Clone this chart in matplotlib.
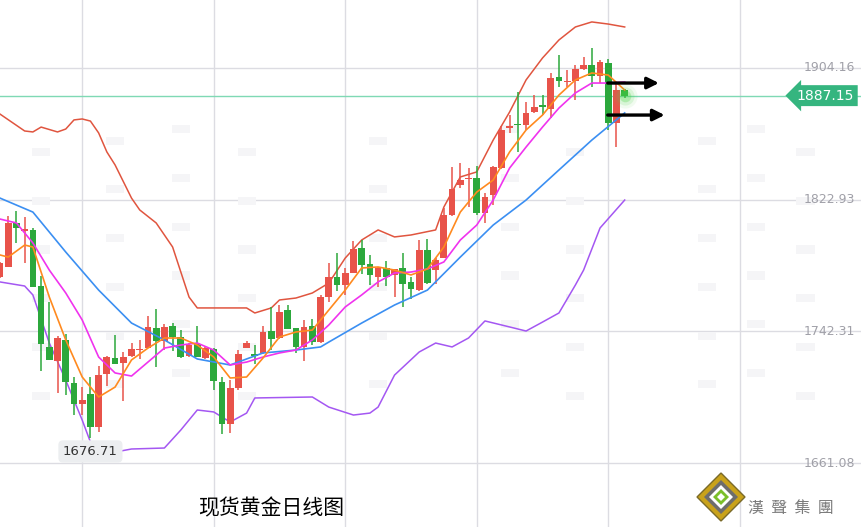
import numpy as np
import matplotlib.pyplot as plt
import matplotlib.transforms as mtransforms
from matplotlib.patches import Polygon

plt.rcParams['font.family'] = ['Noto Sans CJK SC', 'DejaVu Sans']

# daily candles (open, high, low, close)
opens = [1775.3, 1781.9, 1808.9, 1804.0, 1804.4, 1770.0, 1732.7, 1724.1, 1736.8, 1710.5,
         1697.2, 1703.5, 1683.0, 1715.6, 1725.9, 1722.4, 1727.1, 1730.6, 1731.6, 1744.3,
         1736.1, 1745.4, 1738.8, 1726.9, 1734.1, 1725.9, 1731.2, 1711.1, 1684.9, 1707.4,
         1732.0, 1728.1, 1728.5, 1742.3, 1737.8, 1755.2, 1743.9, 1732.6, 1745.4, 1735.8,
         1763.4, 1775.4, 1770.6, 1777.8, 1793.2, 1783.4, 1775.8, 1780.9, 1776.8, 1780.9,
         1772.3, 1767.6, 1792.2, 1779.9, 1787.1, 1813.7, 1832.2, 1835.7, 1836.7, 1814.7,
         1826.0, 1842.4, 1867.0, 1869.7, 1869.1, 1877.3, 1881.2, 1878.9, 1898.4, 1895.8,
         1896.4, 1903.3, 1906.0, 1899.5, 1907.5, 1870.5, 1890.6]
closes = [1783.9, 1808.5, 1805.5, 1804.8, 1769.6, 1734.1, 1724.5, 1738.2, 1710.7, 1697.2,
          1699.9, 1683.0, 1715.2, 1726.5, 1722.2, 1726.5, 1731.2, 1731.4, 1745.0, 1736.3,
          1745.0, 1738.8, 1726.5, 1733.7, 1726.5, 1732.0, 1711.7, 1684.9, 1707.0, 1728.1,
          1735.1, 1727.1, 1741.9, 1737.2, 1754.2, 1743.3, 1732.6, 1745.0, 1735.8, 1763.4,
          1775.4, 1770.6, 1777.8, 1792.6, 1783.0, 1776.8, 1780.9, 1775.8, 1780.3, 1771.3,
          1768.0, 1792.2, 1771.7, 1786.0, 1813.7, 1829.7, 1835.3, 1836.7, 1814.7, 1825.0,
          1843.5, 1866.0, 1868.5, 1869.1, 1876.3, 1880.4, 1880.4, 1898.2, 1896.4, 1896.4,
          1903.6, 1906.0, 1899.5, 1908.1, 1870.1, 1890.6, 1887.15]
highs = [1784.9, 1813.0, 1816.3, 1812.6, 1805.5, 1776.1, 1760.3, 1739.2, 1740.4, 1714.2,
         1708.0, 1714.2, 1720.8, 1727.1, 1739.8, 1729.6, 1734.7, 1736.8, 1751.5, 1755.6,
         1746.6, 1747.4, 1742.9, 1734.7, 1745.6, 1732.6, 1731.6, 1714.2, 1712.1, 1730.6,
         1736.1, 1733.7, 1745.6, 1757.3, 1758.3, 1758.3, 1743.9, 1749.1, 1749.5, 1764.5,
         1784.4, 1790.5, 1780.9, 1797.7, 1798.3, 1789.1, 1781.9, 1785.6, 1780.3, 1790.1,
         1775.8, 1798.3, 1798.7, 1787.1, 1817.8, 1843.0, 1845.5, 1842.4, 1843.9, 1827.1,
         1843.9, 1868.5, 1875.3, 1889.6, 1883.4, 1887.6, 1887.6, 1900.9, 1912.2, 1902.9,
         1906.0, 1911.1, 1916.3, 1909.1, 1909.5, 1895.8, 1891.0]
lows = [1774.7, 1781.5, 1796.2, 1783.9, 1769.2, 1717.9, 1724.5, 1703.9, 1702.9, 1690.6,
        1690.6, 1676.7, 1680.3, 1708.6, 1721.8, 1699.4, 1726.5, 1725.3, 1731.6, 1719.9,
        1730.6, 1730.2, 1725.5, 1726.5, 1726.1, 1725.1, 1706.0, 1678.7, 1679.3, 1706.0,
        1732.0, 1721.8, 1728.1, 1730.6, 1737.2, 1743.3, 1728.5, 1723.8, 1733.7, 1734.7,
        1760.4, 1767.2, 1764.5, 1777.8, 1777.2, 1770.6, 1769.6, 1770.0, 1763.1, 1757.3,
        1761.8, 1767.2, 1771.3, 1771.3, 1787.1, 1813.1, 1830.1, 1818.8, 1813.7, 1808.6,
        1819.9, 1842.0, 1864.0, 1852.7, 1866.0, 1876.7, 1875.3, 1873.2, 1892.7, 1892.7,
        1884.5, 1902.9, 1892.7, 1894.7, 1866.0, 1855.8, 1886.0]

# indicator lines, read at selected candles
ma5_idx = [0, 1, 3, 4, 6, 8, 10, 12, 14, 16, 18, 20, 22, 24, 26, 28, 30, 32, 34, 36, 38,
           40, 42, 44, 46, 48, 50, 52, 54, 56, 58, 60, 62, 64, 66, 68, 70, 72, 74, 76]
ma5 = [1789.1, 1787.8, 1795.2, 1794.0, 1763.2, 1736.8, 1714.0, 1701.7, 1707.8, 1724.5,
       1731.8, 1738.0, 1738.0, 1733.7, 1726.3, 1713.4, 1714.0, 1725.7, 1738.6, 1741.7,
       1742.9, 1755.2, 1767.5, 1781.1, 1781.7, 1779.8, 1776.8, 1780.5, 1794.0, 1815.5,
       1827.8, 1835.2, 1852.5, 1866.0, 1875.2, 1887.5, 1896.8, 1901.1, 1899.8, 1890.6]
ma10_idx = [0, 2, 4, 6, 8, 10, 12, 14, 16, 18, 20, 22, 24, 26, 28, 30, 32, 34, 36, 38,
            40, 42, 44, 46, 48, 50, 52, 54, 56, 58, 60, 62, 64, 66, 68, 70, 72, 74, 76]
ma10 = [1811.2, 1808.8, 1796.5, 1779.8, 1765.7, 1749.1, 1726.3, 1716.5, 1714.6, 1723.2,
        1731.8, 1733.7, 1734.9, 1730.6, 1721.4, 1723.2, 1726.3, 1728.8, 1730.6, 1736.8,
        1746.0, 1757.1, 1764.5, 1772.5, 1778.0, 1778.6, 1780.5, 1784.8, 1798.3, 1807.5,
        1822.9, 1842.6, 1855.5, 1867.8, 1879.5, 1888.8, 1894.9, 1894.9, 1895.5]
ma20_idx = [0, 4, 8, 12, 16, 20, 24, 28, 32, 36, 39, 40, 44, 48, 52, 56, 60, 64, 68, 72, 76]
ma20 = [1824.1, 1815.5, 1790.9, 1767.5, 1747.2, 1736.8, 1725.1, 1721.4, 1728.8, 1730.6,
        1732.5, 1735.5, 1747.2, 1758.3, 1767.5, 1787.8, 1807.5, 1822.9, 1841.4, 1859.8, 1876.5]
up_idx = [0, 3, 4, 5, 7, 8, 9, 10, 11, 12, 13, 14, 16, 17, 19, 21, 23, 24, 28, 30, 31, 33,
          34, 36, 38, 40, 42, 44, 46, 48, 50, 53, 54, 56, 58, 60, 62, 64, 66, 68, 70, 72, 74, 76]
upper = [1875.8, 1865.4, 1864.8, 1867.8, 1864.8, 1866.6, 1872.2, 1872.8, 1871.5, 1864.2,
         1852.5, 1844.5, 1824.1, 1816.8, 1808.8, 1794.0, 1763.2, 1756.5, 1756.5, 1756.5,
         1753.4, 1756.5, 1761.4, 1762.6, 1765.7, 1771.8, 1787.2, 1798.3, 1804.5, 1800.2,
         1801.4, 1804.5, 1818.6, 1837.1, 1840.2, 1859.8, 1877.1, 1896.8, 1910.3, 1921.4,
         1929.4, 1932.5, 1931.2, 1929.4]
lo_idx = [0, 3, 4, 6, 8, 10, 11, 12, 14, 16, 20, 22, 24, 26, 28, 30, 31, 38, 40, 43, 45,
          46, 48, 51, 53, 55, 57, 59, 62, 64, 66, 68, 70, 71, 73, 76]
lower = [1772.5, 1770.0, 1764.5, 1734.9, 1712.1, 1687.5, 1674.0, 1670.9, 1667.8, 1669.7,
         1670.3, 1681.4, 1693.7, 1692.5, 1686.3, 1691.8, 1701.1, 1701.7, 1695.5, 1690.6,
         1691.8, 1695.5, 1715.2, 1729.4, 1734.9, 1732.5, 1738.0, 1748.5, 1744.8, 1742.3,
         1747.8, 1753.4, 1770.6, 1779.8, 1805.7, 1822.9]

price_ticks = [1904.16, 1822.93, 1742.31, 1661.08]
last_price = 1887.15
low_label = 1676.71
title = '现货黄金日线图'

RED = '#e8534a'
GREEN = '#2ca83c'

fig = plt.figure(figsize=(8.62, 5.27), dpi=100)
ax = fig.add_axes([0, 0, 1, 1])
ax.set_xlim(0, 104.87)
ax.set_ylim(1621.7, 1946.0)
ax.axis('off')

# grid
for p in price_ticks:
    ax.axhline(p, color='#dcdce2', lw=1, zorder=0)
for xv in range(10, 100, 16):
    ax.axvline(xv, color='#dcdce2', lw=1, zorder=0)

# faint background blocks (watermark)
rng_x = [5, 14, 22, 30, 46, 62, 70, 86, 92, 98]
for k, xv in enumerate(rng_x):
    for j in range(6):
        ax.bar(xv, 5, bottom=1700 + j * 30 + (k % 3) * 7, width=2.2, color='#f5f5f7', zorder=0)

x = np.arange(len(opens))
o = np.array(opens); c = np.array(closes)
cols = np.where(c >= o, RED, GREEN)
ax.vlines(x, lows, highs, colors=cols, lw=1.1, zorder=3)
ax.bar(x, np.maximum(np.abs(c - o), 0.6), bottom=np.minimum(o, c), width=0.82,
       color=cols, zorder=4)

ax.plot(up_idx, upper, color='#e0553f', lw=1.1, zorder=2)
ax.plot(lo_idx, lower, color='#a457f2', lw=1.1, zorder=2)
ax.plot(ma20_idx, ma20, color='#3b8ff2', lw=1.2, zorder=5)
ax.plot(ma10_idx, ma10, color='#f033ee', lw=1.2, zorder=5)
ax.plot(ma5_idx, ma5, color='#ff8a1f', lw=1.2, zorder=5)

# current price line and glow
ax.axhline(last_price, color='#7fd9b4', lw=1, zorder=1)
for s, a in [(300, 0.08), (170, 0.15), (70, 0.3)]:
    ax.scatter([x[-1]], [last_price], s=s, color='#4fd64a', alpha=a, lw=0, zorder=6)

# arrows
for y0, x1 in [(1894.9, 80.5), (1875.2, 81.2)]:
    ax.annotate('', xy=(x1, y0), xytext=(73.6, y0),
                arrowprops=dict(arrowstyle='-|>', color='black', lw=2.4,
                                mutation_scale=17), zorder=7)

# right axis labels
tr = mtransforms.blended_transform_factory(ax.transAxes, ax.transData)
for p in price_ticks:
    ax.text(0.992, p, f'{p:.2f}', transform=tr, ha='right', va='center',
            fontsize=9, color='#a0a0a8', family='DejaVu Sans')
ax.text(0.991, last_price, f'{last_price:.2f}', transform=tr, ha='right', va='center',
        fontsize=10, color='white', family='DejaVu Sans', zorder=9,
        bbox=dict(boxstyle='larrow,pad=0.25', fc='#35b57f', ec='none'))

# low label
ax.text(11.0, 1668.2, f'{low_label:.2f}', ha='center', va='center', fontsize=9.5,
        color='#333333', family='DejaVu Sans',
        bbox=dict(boxstyle='round,pad=0.35', fc='#eceef0', ec='none'))

fig.text(0.315, 0.035, title, ha='center', va='center', fontsize=15, color='black')

# logo
cx, cy = 721 / 862, 30 / 527
def dia(rr):
    return [(cx, cy + rr / 527), (cx + rr / 862, cy), (cx, cy - rr / 527), (cx - rr / 862, cy)]
fig.add_artist(Polygon(dia(24), closed=True, fc='#c9a21a', ec='#7a6a2a', transform=fig.transFigure))
fig.add_artist(Polygon(dia(17), closed=True, fc='#6d6d6d', ec='none', transform=fig.transFigure))
fig.add_artist(Polygon(dia(12), closed=True, fc='white', ec='none', transform=fig.transFigure))
fig.add_artist(Polygon(dia(8), closed=True, fc='#7bbf2a', ec='none', transform=fig.transFigure))
fig.add_artist(Polygon(dia(4), closed=True, fc='white', ec='none', transform=fig.transFigure))
fig.text(791 / 862, 1 - 508 / 527, '漢  聲  集  團', ha='center', va='center',
         fontsize=11.5, color='#7a7a7a', family=['Noto Sans CJK TC', 'DejaVu Sans'])

fig.savefig('out.png', dpi=100)
